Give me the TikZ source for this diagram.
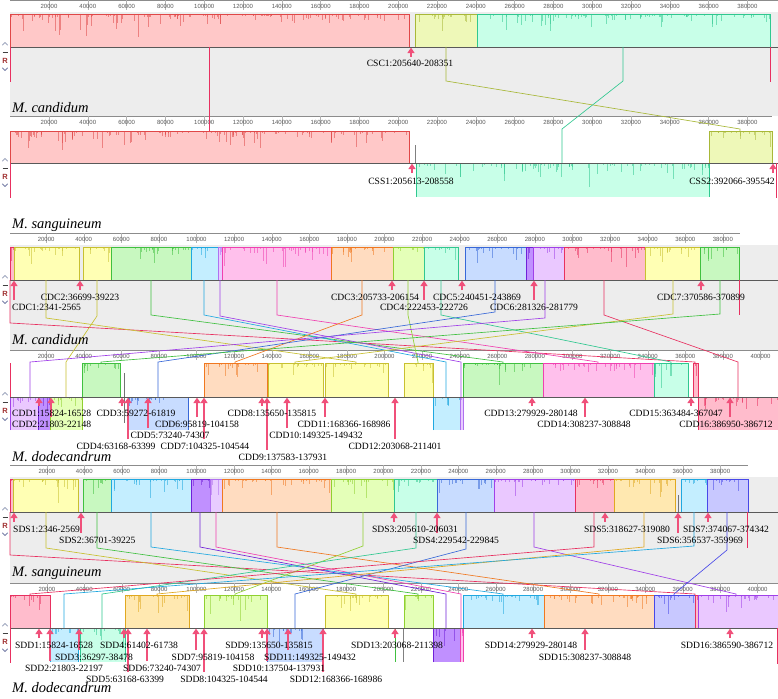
\documentclass[tikz,border=0pt]{standalone}
\usepackage{fontspec}
\setmainfont{Liberation Serif}
\newfontfamily\rulerfont{Liberation Sans}
\usetikzlibrary{arrows.meta}
\definecolor{bgg}{HTML}{EDEDED}
\definecolor{markc}{HTML}{F0507A}
\definecolor{rcol}{HTML}{A03030}
\definecolor{iconc}{HTML}{A0A8C0}
\definecolor{iconc2}{HTML}{7880A8}
\definecolor{pinkF}{HTML}{FFC8C8}\definecolor{pinkL}{HTML}{E04848}
\definecolor{yelF}{HTML}{EEF8B8}\definecolor{yelL}{HTML}{A8B838}
\definecolor{yel2F}{HTML}{FFFFB4}\definecolor{yel2L}{HTML}{C8C030}
\definecolor{mintF}{HTML}{C8FFE8}\definecolor{mintL}{HTML}{30C890}
\definecolor{grnF}{HTML}{C8F8C0}\definecolor{grnL}{HTML}{40C040}
\definecolor{cyaF}{HTML}{C4EEFF}\definecolor{cyaL}{HTML}{20A8E0}
\definecolor{bluF}{HTML}{C8DCFF}\definecolor{bluL}{HTML}{3868D8}
\definecolor{purF}{HTML}{EAC8FF}\definecolor{purL}{HTML}{A040E8}
\definecolor{dpurF}{HTML}{C090FF}\definecolor{dpurL}{HTML}{7020D8}
\definecolor{magF}{HTML}{FFC0EC}\definecolor{magL}{HTML}{F040B0}
\definecolor{orgF}{HTML}{FFDCC0}\definecolor{orgL}{HTML}{F07820}
\definecolor{lgrF}{HTML}{E4FFB8}\definecolor{lgrL}{HTML}{90D030}
\definecolor{redF}{HTML}{FFBCCC}\definecolor{redL}{HTML}{E83060}
\definecolor{golF}{HTML}{FFE8B0}\definecolor{golL}{HTML}{E0A820}
\definecolor{lavF}{HTML}{E8CCFF}\definecolor{lavL}{HTML}{B070F0}
\definecolor{vioF}{HTML}{C8C8FF}\definecolor{vioL}{HTML}{4848E8}
\tikzset{
 lbl/.style={font=\fontsize{9.6}{10}\selectfont, inner sep=0pt, text=black},
 spc/.style={font=\fontsize{14.5}{15}\selectfont\itshape, inner sep=0pt, anchor=west},
 rul/.style={font=\rulerfont\fontsize{6}{6}\selectfont, text=black!65, inner sep=0pt},
 tickln/.style={draw=black!30, line width=0.35pt},
 rulerln/.style={draw=black!45, line width=0.6pt},
 cline/.style={draw=black!65, line width=0.8pt},
 pmark/.style={draw=markc, line width=1.5pt, -{Triangle[width=7pt,length=5.5pt]}},
 conn/.style={line width=0.65pt},
}
\newcommand\mvBlk[6]{%
 \fill[#5] (#1,#3) rectangle (#2,#3+#4);
 \pgfmathtruncatemacro\nsp{max(2,(#2-#1)/3.5)}%
 \foreach \i in {1,...,\nsp}{%
   \pgfmathsetmacro\xx{#1+rnd*(#2-#1)}%
   \pgfmathsetmacro\hh{#4*(0.06+0.85*rnd*rnd*rnd)}%
   \draw[#6, line width=0.35pt, opacity=0.55] (\xx,#3) -- ++(0,\hh);
 }%
 \draw[#6, line width=0.6pt] (#1,#3+#4) -- (#1,#3) -- (#2,#3) -- (#2,#3+#4);
}
\newcommand\mvConn[7]{\draw[conn,draw=#1] (#2,#3) -- (#2,#4) -- (#5,#6) -- (#5,#7);}
\newcommand\mvRuler[6]{%
 \draw[rulerln] (10,#1+0.5) -- (#5,#1+0.5);
 \foreach \k in {1,...,#4}{%
   \pgfmathsetmacro\xx{#2+#3*\k}%
   \draw[tickln] (\xx,#1) -- (\xx,#1+10);
   \node[rul] (#6\k) at (\xx,#1+6) {\number\numexpr2*\k\relax0000};
 }%
}
\newcommand\mvIcons[2]{%
 \draw[iconc, line width=0.9pt, line cap=round, line join=round] (2.5,#1-2) -- (5,#1-4.5) -- (7.5,#1-2);
 \draw[black!75, line width=1.1pt] (2.5,#1+5.5) -- (7.5,#1+5.5);
 \node[font=\rulerfont\bfseries\fontsize{7.5}{8}\selectfont, text=rcol, inner sep=0pt] (#2) at (5,#1+14) {R};
 \draw[iconc2, line width=0.9pt, line cap=round, line join=round] (2.5,#1+21) -- (5,#1+23.5) -- (7.5,#1+21);
}
\newcommand\mvMark[3]{\draw[pmark] (#1,#2) -- (#1,#3+0.6);}
\begin{document}
\begin{tikzpicture}[x=1pt,y=-1pt]
\pgfmathsetseed{7}
\useasboundingbox (0,0) rectangle (778,698);
\fill[white] (0,0) rectangle (778,698);
% gray backgrounds
\fill[bgg] (10,12) rectangle (778,116);
\fill[bgg] (10,245) rectangle (778,350);
\fill[bgg] (10,477) rectangle (778,583);
% ===== Panel 1
\mvRuler{0}{10.2}{38.8}{19}{778}{ra}
\mvBlk{10}{409}{14}{33}{pinkF}{pinkL}
\mvBlk{415}{477}{14}{33}{yelF}{yelL}
\mvBlk{477}{770}{14}{33}{mintF}{mintL}
\draw[cline] (10,47) -- (778,47);
% ===== Panel 2
\mvRuler{116}{10.2}{38.8}{19}{772}{rb}
\mvBlk{10}{409}{131}{32}{pinkF}{pinkL}
\draw[black!50, line width=0.8pt] (415,145) -- (415,163);
\mvBlk{416}{709}{163}{34}{mintF}{mintL}
\mvBlk{709}{772}{131}{32}{yelF}{yelL}
\draw[cline] (10,163) -- (778,163);
% ===== Panel 3
\mvRuler{233}{8.5}{37.6}{19}{740}{rc}
\mvBlk{10}{14}{247}{33}{redF}{redL}
\mvBlk{14}{79}{247}{33}{yel2F}{yel2L}
\mvBlk{83}{111}{247}{33}{yel2F}{yel2L}
\mvBlk{111}{191}{247}{33}{grnF}{grnL}
\mvBlk{191}{218}{247}{33}{cyaF}{cyaL}
\mvBlk{218}{222}{247}{33}{lavF}{lavL}
\mvBlk{222}{331}{247}{33}{magF}{magL}
\mvBlk{331}{393}{247}{33}{orgF}{orgL}
\mvBlk{393}{424}{247}{33}{lgrF}{lgrL}
\mvBlk{424}{458}{247}{33}{mintF}{mintL}
\mvBlk{465}{526}{247}{33}{bluF}{bluL}
\mvBlk{526}{533}{247}{33}{dpurF}{dpurL}
\mvBlk{533}{564}{247}{33}{purF}{purL}
\mvBlk{564}{645}{247}{33}{redF}{redL}
\mvBlk{645}{700}{247}{33}{yel2F}{yel2L}
\mvBlk{700}{739}{247}{33}{grnF}{grnL}
\draw[cline] (10,280) -- (778,280);
% ===== Panel 4
\mvRuler{350}{8.5}{37.6}{20}{778}{rd}
\mvBlk{10}{38}{397}{33}{purF}{purL}
\mvBlk{38}{50}{397}{33}{dpurF}{dpurL}
\mvBlk{50}{82}{397}{33}{lgrF}{lgrL}
\mvBlk{82}{120}{363}{34}{grnF}{grnL}
\draw[black!55, line width=0.7pt] (124,373) -- (124,423);
\mvBlk{128}{188}{397}{33}{bluF}{bluL}
\mvBlk{204}{267}{363}{34}{orgF}{orgL}
\mvBlk{268}{323}{363}{34}{yel2F}{yel2L}
\mvBlk{325}{388}{363}{34}{yel2F}{yel2L}
\mvBlk{404}{433}{363}{34}{yel2F}{yel2L}
\mvBlk{433}{460}{397}{33}{cyaF}{cyaL}
\mvBlk{460}{463}{397}{33}{lavF}{lavL}
\mvBlk{463}{543}{363}{34}{grnF}{grnL}
\mvBlk{543}{654}{363}{34}{magF}{magL}
\mvBlk{654}{688}{363}{34}{mintF}{mintL}
\mvBlk{693}{698}{363}{34}{redF}{redL}
\mvBlk{698}{778}{397}{33}{redF}{redL}
\draw[cline] (10,397) -- (778,397);
% ===== Panel 5
\mvRuler{465}{9.5}{37.4}{19}{748}{re}
\mvBlk{10}{13}{479}{33}{redF}{redL}
\mvBlk{13}{78}{479}{33}{yel2F}{yel2L}
\mvBlk{83}{111}{479}{33}{grnF}{grnL}
\mvBlk{111}{191}{479}{33}{cyaF}{cyaL}
\mvBlk{191}{210}{479}{33}{dpurF}{dpurL}
\mvBlk{210}{222}{479}{33}{lavF}{lavL}
\mvBlk{222}{331}{479}{33}{orgF}{orgL}
\mvBlk{331}{394}{479}{33}{lgrF}{lgrL}
\mvBlk{394}{437}{479}{33}{mintF}{mintL}
\mvBlk{437}{494}{479}{33}{bluF}{bluL}
\mvBlk{494}{575}{479}{33}{purF}{purL}
\mvBlk{575}{614}{479}{33}{redF}{redL}
\mvBlk{614}{675}{479}{33}{golF}{golL}
\draw[black!55, line width=0.8pt] (678,495) -- (678,512);
\mvBlk{681}{707}{479}{33}{cyaF}{cyaL}
\mvBlk{707}{748}{479}{33}{vioF}{vioL}
\draw[cline] (10,512) -- (778,512);
% ===== Panel 6
\mvRuler{583}{9.5}{37.4}{20}{778}{rf}
\mvBlk{10}{50}{595}{33}{redF}{redL}
\mvBlk{50}{78}{628}{34}{cyaF}{cyaL}
\mvBlk{80}{125}{628}{34}{mintF}{mintL}
\mvBlk{125}{189}{595}{33}{golF}{golL}
\mvBlk{204}{267}{595}{33}{lgrF}{lgrL}
\mvBlk{267}{323}{628}{34}{bluF}{bluL}
\mvBlk{325}{388}{595}{33}{yel2F}{yel2L}
\draw[grnL, line width=0.7pt] (395,628) -- (395,662);
\draw[black!50, line width=0.7pt] (403,628) -- (403,662);
\mvBlk{404}{433}{595}{33}{lgrF}{lgrL}
\mvBlk{433}{460}{628}{34}{dpurF}{dpurL}
\mvBlk{460}{463}{628}{34}{magF}{magL}
\mvBlk{463}{544}{595}{33}{cyaF}{cyaL}
\mvBlk{544}{654}{595}{33}{orgF}{orgL}
\mvBlk{654}{695}{595}{33}{vioF}{vioL}
\mvBlk{695}{698}{595}{33}{redF}{redL}
\mvBlk{698}{778}{595}{33}{purF}{purL}
\draw[cline] (10,628) -- (778,628);
% ===== connectors 1-2
\draw[conn,draw=redL,line width=0.8pt] (209,47) -- (209,131);
\mvConn{yelL}{446}{47}{81}{740}{129}{131}
\mvConn{mintL}{623}{47}{81}{562}{129}{163}
\draw[conn,draw=redL] (10,47) -- (10,82);
\draw[conn,draw=redL] (770,47) -- (770,82);
\draw[conn,draw=redL] (10,163) -- (10,198);
\draw[conn,draw=redL] (776,163) -- (776,198);
% ===== connectors 3-4
\mvConn{redL}{10}{280}{323}{695}{362}{363}
\mvConn{yel2L}{46}{280}{318}{356}{362}{363}
\mvConn{yel2L}{97}{280}{316}{66}{362}{397}
\mvConn{grnL}{151}{280}{315}{503}{362}{363}
\mvConn{cyaL}{204}{280}{315}{446}{362}{397}
\mvConn{purL}{220}{280}{316}{461}{362}{397}
\mvConn{magL}{277}{280}{315}{598}{362}{363}
\mvConn{orgL}{362}{280}{315}{235}{362}{363}
\mvConn{lgrL}{408}{280}{315}{418}{362}{363}
\mvConn{mintL}{441}{280}{315}{671}{362}{363}
\mvConn{bluL}{495}{280}{312}{158}{362}{397}
\mvConn{purL}{545}{280}{318}{30}{362}{397}
\mvConn{redL}{604}{280}{315}{738}{362}{397}
\mvConn{yel2L}{673}{280}{314}{295}{362}{363}
\mvConn{grnL}{720}{280}{314}{101}{362}{363}
\draw[conn,draw=redL] (739,280) -- (739,315);
\draw[conn,draw=redL] (10,363) -- (10,397);
% ===== connectors 5-6
\mvConn{redL}{10}{512}{555}{695}{594}{595}
\mvConn{yel2L}{46}{512}{548}{356}{594}{595}
\mvConn{grnL}{97}{512}{548}{418}{594}{595}
\mvConn{cyaL}{151}{512}{547}{503}{594}{595}
\mvConn{dpurL}{200}{512}{547}{446}{594}{628}
\mvConn{magL}{216}{512}{547}{461}{594}{628}
\mvConn{orgL}{277}{512}{547}{599}{594}{595}
\mvConn{lgrL}{363}{512}{546}{235}{594}{595}
\mvConn{mintL}{416}{512}{548}{102}{594}{628}
\mvConn{bluL}{466}{512}{549}{295}{594}{628}
\mvConn{purL}{534}{512}{547}{736}{594}{595}
\mvConn{redL}{594}{512}{547}{30}{594}{595}
\mvConn{golL}{644}{512}{547}{157}{594}{595}
\mvConn{cyaL}{694}{512}{546}{64}{594}{628}
\mvConn{vioL}{727}{512}{550}{674}{594}{595}
\draw[conn,draw=redL] (747,512) -- (747,548);
\draw[conn,draw=redL] (10,628) -- (10,663);
\draw[conn,draw=redL] (777,628) -- (777,664);
% ===== marks and labels
\mvMark{411}{57}{47}
\node[lbl] (csc1) at (410,63) {CSC1:205640-208351};
\mvMark{412}{173}{163}
\mvMark{773}{173}{163}
\node[lbl] (css1) at (411,181) {CSS1:205613-208558};
\node[lbl] (css2) at (732,181) {CSS2:392066-395542};
% panel 3
\mvMark{14}{300}{280}\mvMark{80}{290}{280}\mvMark{392}{290}{280}\mvMark{424}{300}{280}
\mvMark{462}{290}{280}\mvMark{534}{300}{280}\mvMark{701}{290}{280}
\node[lbl,anchor=west] (cdc1) at (12,307) {CDC1:2341-2565};
\node[lbl] (cdc2) at (80,297) {CDC2:36699-39223};
\node[lbl] (cdc3) at (375,297) {CDC3:205733-206154};
\node[lbl] (cdc4) at (424,307) {CDC4:222453-222726};
\node[lbl] (cdc5) at (477,297) {CDC5:240451-243869};
\node[lbl] (cdc6) at (534,307) {CDC6:281326-281779};
\node[lbl] (cdc7) at (701,297) {CDC7:370586-370899};
% panel 4
\mvMark{39}{406}{397}\mvMark{51}{417}{397}\mvMark{122}{406}{397}\mvMark{128}{439}{397}
\mvMark{148}{428}{397}\mvMark{197}{417}{397}\mvMark{204}{439}{397}\mvMark{262}{406}{397}
\mvMark{267}{450}{397}\mvMark{287}{428}{397}\mvMark{325}{417}{397}\mvMark{395}{439}{397}
\mvMark{532}{406}{397}\mvMark{585}{417}{397}\mvMark{691}{406}{397}\mvMark{730}{417}{397}
\node[lbl,anchor=west] (cdd1) at (12,413) {CDD1:15824-16528};
\node[lbl,anchor=west] (cdd2) at (12,424) {CDD2:21803-22148};
\node[lbl] (cdd3) at (136,413) {CDD3:59272-61819};
\node[lbl] (cdd4) at (116,446) {CDD4:63168-63399};
\node[lbl] (cdd5) at (170,435) {CDD5:73240-74307};
\node[lbl] (cdd6) at (197,424) {CDD6:95819-104158};
\node[lbl] (cdd7) at (205,446) {CDD7:104325-104544};
\node[lbl] (cdd8) at (272,413) {CDD8:135650-135815};
\node[lbl] (cdd9) at (283,457) {CDD9:137583-137931};
\node[lbl] (cdd10) at (316,435) {CDD10:149325-149432};
\node[lbl] (cdd11) at (344,424) {CDD11:168366-168986};
\node[lbl] (cdd12) at (395,446) {CDD12:203068-211401};
\node[lbl] (cdd13) at (531,413) {CDD13:279929-280148};
\node[lbl] (cdd14) at (584,424) {CDD14:308237-308848};
\node[lbl] (cdd15) at (676,413) {CDD15:363484-367047};
\node[lbl] (cdd16) at (726,424) {CDD16:386950-386712};
% panel 5
\mvMark{14}{522}{512}\mvMark{81}{533}{512}\mvMark{394}{522}{512}\mvMark{437}{533}{512}
\mvMark{605}{522}{512}\mvMark{678}{533}{512}\mvMark{708}{522}{512}
\node[lbl,anchor=west] (sds1) at (13,529) {SDS1:2346-2569};
\node[lbl,anchor=west] (sds2) at (59,540) {SDS2:36701-39225};
\node[lbl] (sds3) at (415,529) {SDS3:205610-206031};
\node[lbl] (sds4) at (456,540) {SDS4:229542-229845};
\node[lbl] (sds5) at (627,529) {SDS5:318627-319080};
\node[lbl] (sds6) at (700,540) {SDS6:356537-359969};
\node[lbl] (sds7) at (726,529) {SDS7:374067-374342};
% panel 6
\mvMark{39}{638}{628}\mvMark{50}{661}{628}\mvMark{79}{650}{628}\mvMark{124}{638}{628}
\mvMark{128}{672}{628}\mvMark{147}{661}{628}\mvMark{196}{650}{628}\mvMark{204}{672}{628}
\mvMark{262}{638}{628}\mvMark{267}{661}{628}\mvMark{288}{650}{628}\mvMark{323}{672}{628}
\mvMark{395}{638}{628}\mvMark{532}{638}{628}\mvMark{585}{650}{628}\mvMark{730}{638}{628}
\node[lbl] (sdd1) at (54,645) {SDD1:15824-16528};
\node[lbl] (sdd2) at (64,668) {SDD2:21803-22197};
\node[lbl] (sdd3) at (94,657) {SDD3:36297-38478};
\node[lbl] (sdd4) at (139,645) {SDD4:61402-61738};
\node[lbl] (sdd5) at (125,679) {SDD5:63168-63399};
\node[lbl] (sdd6) at (162,668) {SDD6:73240-74307};
\node[lbl] (sdd7) at (213,657) {SDD7:95819-104158};
\node[lbl] (sdd8) at (224,679) {SDD8:104325-104544};
\node[lbl] (sdd9) at (269,645) {SDD9:135650-135815};
\node[lbl] (sdd10) at (279,668) {SDD10:137504-137931};
\node[lbl] (sdd11) at (310,657) {SDD11:149325-149432};
\node[lbl] (sdd12) at (336,679) {SDD12:168366-168986};
\node[lbl] (sdd13) at (397,645) {SDD13:203068-211398};
\node[lbl] (sdd14) at (531,645) {SDD14:279929-280148};
\node[lbl] (sdd15) at (585,657) {SDD15:308237-308848};
\node[lbl] (sdd16) at (727,645) {SDD16:386590-386712};
% species
\node[spc] (sp1) at (12,108) {M. candidum};
\node[spc] (sp2) at (12,225) {M. sanguineum};
\node[spc] (sp3) at (12,340) {M. candidum};
\node[spc] (sp4) at (12,457) {M. dodecandrum};
\node[spc] (sp5) at (12,573) {M. sanguineum};
\node[spc] (sp6) at (12,688) {M. dodecandrum};
% icons
\mvIcons{47}{ic1}\mvIcons{163}{ic2}\mvIcons{280}{ic3}
\mvIcons{397}{ic4}\mvIcons{512}{ic5}\mvIcons{628}{ic6}
\end{tikzpicture}
\end{document}
